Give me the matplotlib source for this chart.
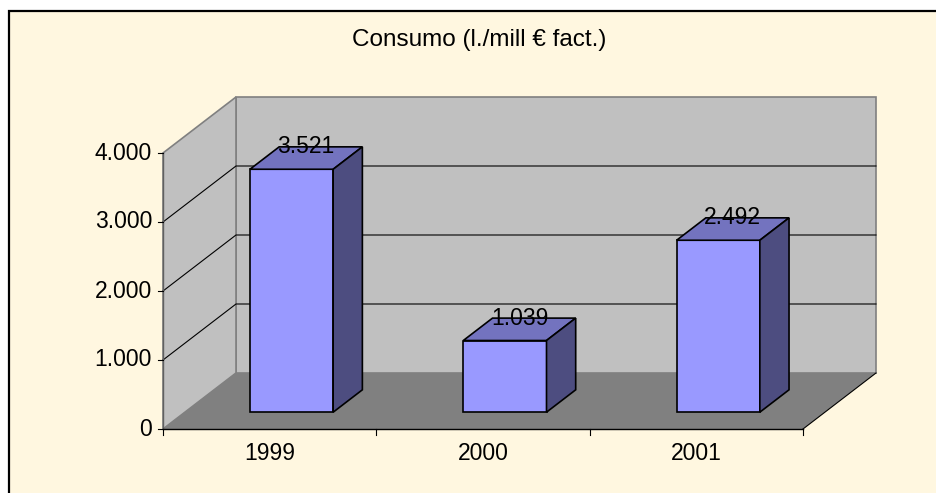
import numpy as np
import matplotlib.pyplot as plt
from matplotlib.patches import Rectangle

plt.rcParams['font.family'] = ['Liberation Sans', 'DejaVu Sans']

years = ['1999', '2000', '2001']
consumo = [3521, 1039, 2492]
labels = ['3.521', '1.039', '2.492']
yticks = [0, 1000, 2000, 3000, 4000]
ytick_labels = ['0', '1.000', '2.000', '3.000', '4.000']

W, H = 936, 493
fig = plt.figure(figsize=(W / 100, H / 100), dpi=100)
fig.patch.set_facecolor('white')

# chart area (border runs off the right/bottom edge like the original)
fig.patches.append(Rectangle((9 / W, -0.2), 1.2, 1.2 - 11 / H,
                             transform=fig.transFigure, facecolor='#fff7e0',
                             edgecolor='black', lw=1.6, zorder=-10))
fig.text(479 / W, 1 - 40 / H, 'Consumo (l./mill € fact.)', ha='center', va='center',
         fontsize=17.5)

ax = fig.add_axes([0, 0, 1, 1])
ax.set_facecolor('none')
ax.axis('off')

# pixel geometry -> data limits
px0, py0 = 163, 429
sx = 640 / 3          # px per category
sy = 276 / 4000       # px per unit
ax.set_xlim(-px0 / sx, (W - px0) / sx)
ax.set_ylim(-(H - py0) / sy, py0 / sy)

n = len(years)
ymax = yticks[-1]
DX = 73 / sx          # depth offset in x (category units)
DY = 56 / sy          # depth offset in y (value units)

# back wall
ax.fill([DX, n + DX, n + DX, DX], [DY, DY, ymax + DY, ymax + DY],
        color='#c0c0c0', ec='#808080', lw=1.2, zorder=1)
# left wall
ax.fill([0, DX, DX, 0], [0, DY, ymax + DY, ymax],
        color='#c0c0c0', ec='#808080', lw=1.2, zorder=1)
# floor
ax.fill([0, n, n + DX, DX], [0, 0, DY, DY], color='#808080', lw=0, zorder=2)
ax.plot([n, n + DX], [0, DY], color='black', lw=0.8, zorder=3)

# gridlines on walls
for v in yticks[1:-1]:
    ax.plot([0, DX, n + DX], [v, v + DY, v + DY], color='black', lw=0.8, zorder=2)

# axes
ax.plot([0, 0], [0, ymax], color='#606060', lw=1, zorder=3)
ax.plot([0, n], [0, 0], color='black', lw=1, zorder=3)
for v, t in zip(yticks, ytick_labels):
    ax.plot([-5 / sx, 0], [v, v], color='black', lw=0.8, zorder=3)
    ax.text(-11 / sx, v, t, ha='right', va='center', fontsize=16.5)
for i in range(n + 1):
    ax.plot([i, i], [0, -6 / sy], color='black', lw=0.8, zorder=3)
for i, y in enumerate(years):
    ax.text(i + 0.5, -25 / sy, y, ha='center', va='center', fontsize=16.5)

# 3d bars
bw = 0.39
d0, d1 = 0.3, 0.7
for i, (v, lab) in enumerate(zip(consumo, labels)):
    xl = i + 0.5 - bw / 2 + d0 * DX
    xr = xl + bw
    yb = d0 * DY
    ox, oy = (d1 - d0) * DX, (d1 - d0) * DY
    ax.bar(xl, v, width=bw, bottom=yb, align='edge', color='#9999ff',
           edgecolor='black', lw=1.2, zorder=5)
    ax.fill([xl, xr, xr + ox, xl + ox], [yb + v, yb + v, yb + v + oy, yb + v + oy],
            color='#7373bf', ec='black', lw=1.2, zorder=5)
    ax.fill([xr, xr + ox, xr + ox, xr], [yb, yb + oy, yb + v + oy, yb + v],
            color='#4d4d80', ec='black', lw=1.2, zorder=5)
    ax.text(xl + bw / 2 + ox / 2, yb + v + oy, lab, ha='center', va='center',
            fontsize=16.5, zorder=6)

plt.savefig('out.png', dpi=100)
